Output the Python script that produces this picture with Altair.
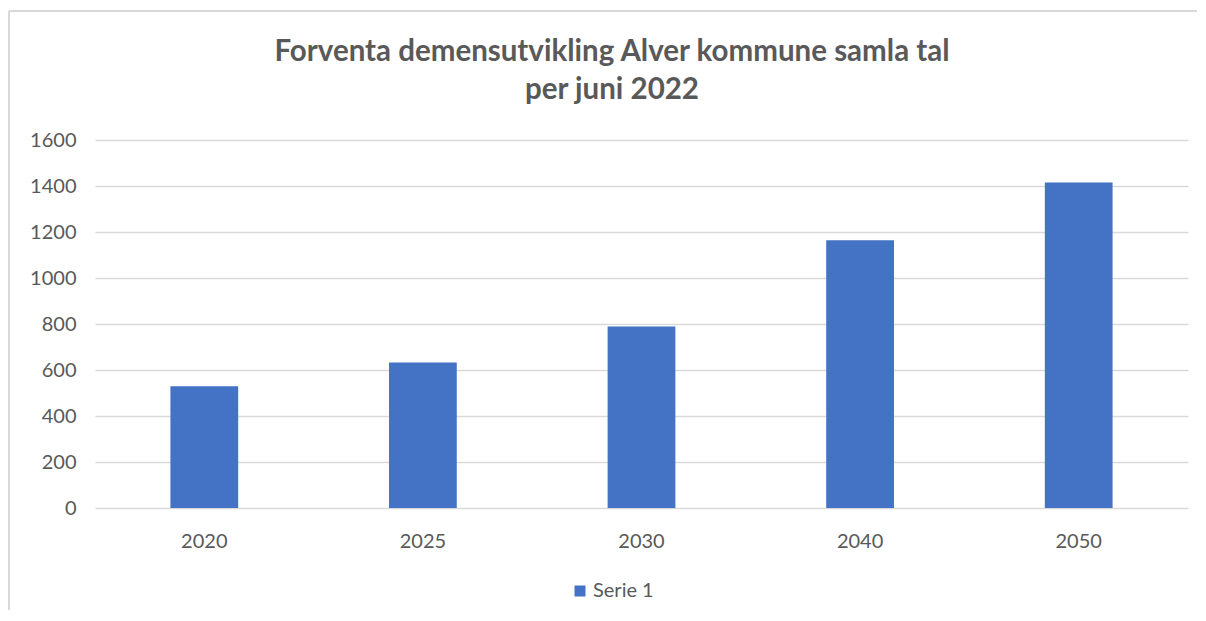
import altair as alt
import pandas as pd

years = ["2020", "2025", "2030", "2040", "2050"]
values = [529, 633, 789, 1164, 1415]
series = ["Serie 1"] * len(years)
y_ticks = [0, 200, 400, 600, 800, 1000, 1200, 1400, 1600]
title_lines = ["Forventa demensutvikling Alver kommune samla tal", "per juni 2022"]

df = pd.DataFrame({"år": years, "verdi": values, "serie": series})
one = pd.DataFrame({"k": [0]})

TXT = "#595959"
FONT = "Lato"
FRAME = "#d9d9d9"

bars = alt.Chart(df).mark_bar(color="#4472C4").encode(
    x=alt.X("år:N", sort=years, title=None,
            scale=alt.Scale(paddingInner=0.69, paddingOuter=0.345),
            axis=alt.Axis(labelAngle=0, labelFontSize=20, labelColor=TXT,
                          labelFont=FONT, labelPadding=23, ticks=False,
                          domain=False, grid=False)),
    y=alt.Y("verdi:Q", title=None,
            scale=alt.Scale(domain=[0, 1600]),
            axis=alt.Axis(values=y_ticks, format="d",
                          labelFontSize=20, labelColor=TXT, labelFont=FONT,
                          labelPadding=19, ticks=False, domain=False,
                          gridColor="#d9d9d9", gridWidth=1.5)),
    color=alt.Color("serie:N", title=None,
                    scale=alt.Scale(range=["#4472C4"]),
                    legend=alt.Legend(orient="none", legendX=475, legendY=441,
                                      symbolType="square", symbolSize=121,
                                      symbolStrokeWidth=0, labelOffset=3,
                                      labelFontSize=20, labelColor=TXT,
                                      labelFont=FONT, direction="horizontal")),
)

# decorative frame lines (left and top) of the chart box
frame_left = alt.Chart(one).mark_rule(color=FRAME, strokeWidth=2).encode(
    x=alt.value(-86), y=alt.value(-129), y2=alt.value(470))
frame_top = alt.Chart(one).mark_rule(color=FRAME, strokeWidth=2).encode(
    x=alt.value(-86), x2=alt.value(1102), y=alt.value(-129))

t1 = alt.Chart(one).mark_text(font=FONT, fontSize=29.5, fontWeight="bold", color=TXT,
                              align="center", baseline="middle").encode(
    x=alt.value(517), y=alt.value(-88), text=alt.value(title_lines[0]))
t2 = alt.Chart(one).mark_text(font=FONT, fontSize=29.5, fontWeight="bold", color=TXT,
                              align="center", baseline="middle").encode(
    x=alt.value(517), y=alt.value(-50), text=alt.value(title_lines[1]))

chart = alt.layer(bars, frame_left, frame_top, t1, t2).properties(
    width=1093,
    height=368,
    background="white",
    padding={"left": 0, "top": 2, "right": 0, "bottom": 0},
).configure_view(strokeWidth=0, stroke="transparent")

chart.save("out.html", embed_options={"renderer": "svg", "actions": False})
